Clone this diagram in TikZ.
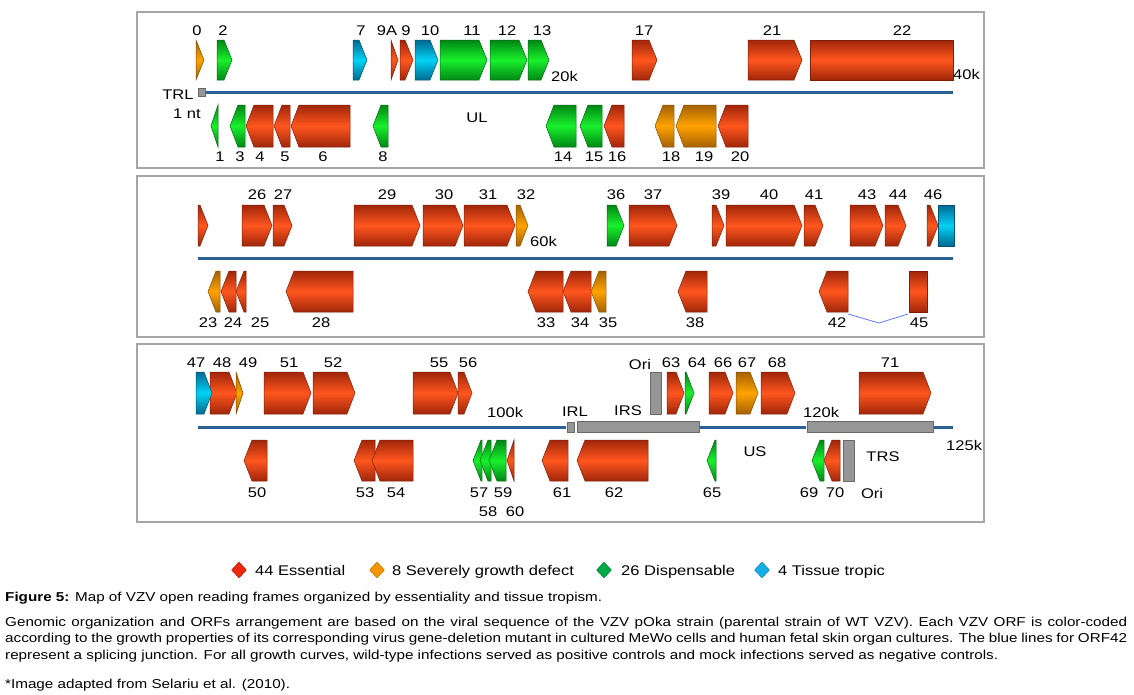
\documentclass[tikz,border=0pt]{standalone}
\usepackage{fontspec}
\setmainfont{Liberation Sans}[FakeStretch=1.18]
\usetikzlibrary{shapes.geometric}
\definecolor{essdark}{RGB}{160,38,10}
\definecolor{esslite}{RGB}{255,86,30}
\definecolor{sevdark}{RGB}{165,98,0}
\definecolor{sevlite}{RGB}{255,162,0}
\definecolor{grndark}{RGB}{0,135,20}
\definecolor{grnlite}{RGB}{25,240,45}
\definecolor{tisdark}{RGB}{0,105,145}
\definecolor{tislite}{RGB}{0,210,245}
\definecolor{origray}{RGB}{150,150,150}
\definecolor{genome}{RGB}{45,95,150}
\definecolor{splice}{RGB}{100,120,255}
\definecolor{frame}{RGB}{165,165,165}
\definecolor{keyess}{RGB}{235,40,10}
\definecolor{keysev}{RGB}{245,150,0}
\definecolor{keydis}{RGB}{0,170,70}
\definecolor{keytis}{RGB}{20,175,230}
\tikzset{
  % fills for the four growth classes, plus the grey repeat/origin blocks
  ess/.style={draw=essdark!80!black,line width=0.5pt,top color=essdark,bottom color=essdark,middle color=esslite},
  sev/.style={draw=sevdark!80!black,line width=0.5pt,top color=sevdark,bottom color=sevdark,middle color=sevlite},
  dis/.style={draw=grndark!80!black,line width=0.5pt,top color=grndark,bottom color=grndark,middle color=grnlite},
  tis/.style={draw=tisdark!80!black,line width=0.5pt,top color=tisdark,bottom color=tisdark,middle color=tislite},
  rep/.style={draw=origray!70!black,line width=0.5pt,fill=origray},
  % text
  orflab/.style={font=\fontsize{14}{16}\selectfont,inner sep=0},
  seglab/.style={font=\fontsize{14}{16}\selectfont,inner sep=0},
  legdia/.style={diamond,draw=#1!70!black,fill=#1,inner sep=0,minimum width=15,minimum height=16},
  legtxt/.style={font=\fontsize{14}{16}\selectfont,inner sep=0,anchor=base west},
  captxt/.style={font=\fontsize{12.9}{16}\selectfont,inner sep=0,anchor=base west},
  panel/.style={draw=frame,line width=1.6pt},
  dna/.style={draw=genome,line width=3pt}
}
% current row of ORFs: top, bottom
\newcommand{\setrow}[2]{\def\rowT{#1}\def\rowB{#2}\pgfmathsetmacro{\rowM}{(#1+#2)/2}}
% forward ORF: style, left x, right x
\newcommand{\orfF}[3]{\pgfmathsetmacro{\tb}{max(#2,#3-8)}%
  \path[#1] (#2,\rowT) -- (\tb,\rowT) -- (#3,\rowM) -- (\tb,\rowB) -- (#2,\rowB) -- cycle;}
% reverse ORF: style, left x, right x
\newcommand{\orfR}[3]{\pgfmathsetmacro{\tb}{min(#3,#2+8)}%
  \path[#1] (#3,\rowT) -- (\tb,\rowT) -- (#2,\rowM) -- (\tb,\rowB) -- (#3,\rowB) -- cycle;}
% ORF without direction
\newcommand{\orfB}[3]{\path[#1] (#2,\rowT) rectangle (#3,\rowB);}

\begin{document}
\begin{tikzpicture}[x=1pt,y=-1pt]
  \useasboundingbox[fill=white] (0,0) rectangle (1134,694);
  % Panel 1: 0--40k
  \draw[panel] (137,12) rectangle (984,168);
  \path[rep] (198,88) rectangle (205,96);
  \draw[dna] (206,92) -- (953,92);
  \setrow{40}{80}
  \orfF{sev}{196}{204}
  \orfF{dis}{217}{232}
  \orfF{tis}{353}{367}
  \orfF{ess}{391}{398}
  \orfF{ess}{400}{413}
  \orfF{tis}{415}{438}
  \orfF{dis}{440}{487}
  \orfF{dis}{490}{527}
  \orfF{dis}{528}{549}
  \orfF{ess}{632}{657}
  \orfF{ess}{748}{802}
  \orfB{ess}{810}{953}
  \setrow{105}{147}
  \orfR{dis}{211}{218}
  \orfR{dis}{230}{245}
  \orfR{ess}{246}{273}
  \orfR{ess}{274}{290}
  \orfR{ess}{291}{350}
  \orfR{dis}{373}{388}
  \orfR{dis}{546}{576}
  \orfR{dis}{580}{602}
  \orfR{ess}{604}{624}
  \orfR{sev}{655}{674}
  \orfR{sev}{676}{716}
  \orfR{ess}{718}{748}
  \foreach \n/\x in {0/197,2/223,7/361,9A/387,9/406,10/430,11/472,12/507,13/542,17/644,21/772,22/902}
    \node[orflab] (a\n) at (\x,31) {\n};
  \foreach \n/\x in {1/220,3/240,4/260,5/285,6/323,8/383,14/563,15/594,16/617,18/671,19/704,20/740}
    \node[orflab] (b\n) at (\x,157) {\n};
  \node[seglab] (trl) at (178,95) {TRL};
  \node[seglab] (nt) at (187,114) {1 nt};
  \node[seglab] (ul) at (477,118) {UL};
  \node[seglab,anchor=west] (k20) at (551,76) {20k};
  \node[seglab,anchor=west] (k40) at (953,74) {40k};

  % Panel 2: 40k--100k
  \draw[panel] (137,176) rectangle (984,337);
  \draw[dna] (198,258) -- (953,258);
  \setrow{205}{246}
  \orfF{ess}{198}{208}
  \orfF{ess}{242}{272}
  \orfF{ess}{273}{292}
  \orfF{ess}{354}{420}
  \orfF{ess}{423}{463}
  \orfF{ess}{464}{515}
  \orfF{sev}{516}{528}
  \orfF{dis}{607}{624}
  \orfF{ess}{629}{677}
  \orfF{ess}{712}{724}
  \orfF{ess}{726}{802}
  \orfF{ess}{804}{823}
  \orfF{ess}{850}{883}
  \orfF{ess}{885}{906}
  \orfF{ess}{927}{938}
  \orfB{tis}{938}{954}
  \setrow{271}{312}
  \orfR{sev}{208}{220}
  \orfR{ess}{221}{236}
  \orfR{ess}{236}{246}
  \orfR{ess}{286}{353}
  \orfR{ess}{528}{563}
  \orfR{ess}{563}{591}
  \orfR{sev}{591}{606}
  \orfR{ess}{678}{707}
  \orfR{ess}{819}{848}
  \orfB{ess}{909}{927}
  % splicing junction of ORF42/45
  \draw[splice,line width=0.8pt] (848,314) -- (879,323) -- (908,314);
  \foreach \n/\x in {26/257,27/283,29/387,30/444,31/488,32/526,36/616,37/653,39/721,40/769,41/814,43/867,44/898,46/933}
    \node[orflab] (a\n) at (\x,195) {\n};
  \foreach \n/\x in {23/208,24/233,25/260,28/321,33/546,34/580,35/608,38/695,42/837,45/919}
    \node[orflab] (b\n) at (\x,323) {\n};
  \node[seglab,anchor=west] (k60) at (530,241) {60k};

  % Panel 3: 100k--125k
  \draw[panel] (137,344) rectangle (984,522);
  \draw[dna] (198,427) -- (566,427);
  \path[rep] (567,422) rectangle (574,432);
  \path[rep] (577,421) rectangle (699,432);
  \draw[dna] (700,427) -- (806,427);
  \path[rep] (807,421) rectangle (933,432);
  \draw[dna] (934,427) -- (953,427);
  \setrow{372}{414}
  \orfF{ess}{210}{237}
  \orfF{tis}{196}{212}
  \orfF{sev}{236}{243}
  \orfF{ess}{264}{311}
  \orfF{ess}{313}{355}
  \orfF{ess}{413}{458}
  \orfF{ess}{458}{472}
  \orfB{rep}{650}{661}
  \orfF{ess}{667}{684}
  \orfF{dis}{685}{694}
  \orfF{ess}{709}{733}
  \orfF{sev}{736}{758}
  \orfF{ess}{761}{795}
  \orfF{ess}{859}{931}
  \setrow{440}{481}
  \orfR{ess}{244}{267}
  \orfR{ess}{354}{375}
  \orfR{ess}{372}{413}
  \orfR{dis}{473}{482}
  \orfR{dis}{480}{491}
  \orfR{dis}{489}{506}
  \orfR{ess}{507}{514}
  \orfR{ess}{542}{568}
  \orfR{ess}{577}{648}
  \orfR{dis}{707}{716}
  \orfR{dis}{812}{824}
  \orfR{ess}{824}{840}
  \orfB{rep}{843}{854}
  \foreach \n/\x in {47/196,48/222,49/248,51/289,52/333,55/439,56/468,63/671,64/697,66/723,67/747,68/777,71/890}
    \node[orflab] (a\n) at (\x,363) {\n};
  \foreach \n/\x in {50/257,53/365,54/396,57/479,59/503,61/562,62/614,65/712,69/809,70/835}
    \node[orflab] (b\n) at (\x,493) {\n};
  \foreach \n/\x in {58/488,60/515}
    \node[orflab] (b\n) at (\x,512) {\n};
  \node[seglab] (oriS) at (640,364) {Ori};
  \node[seglab] (oriT) at (872,493) {Ori};
  \node[seglab,anchor=west] (k100) at (487,412) {100k};
  \node[seglab] (irl) at (575,412) {IRL};
  \node[seglab] (irs) at (628,411) {IRS};
  \node[seglab,anchor=west] (k120) at (803,412) {120k};
  \node[seglab,anchor=west] (k125) at (946,445) {125k};
  \node[seglab] (us) at (755,452) {US};
  \node[seglab] (trs) at (883,457) {TRS};

  % Legend
  \node[legdia=keyess] (dE) at (239,570) {};
  \node[legtxt] (tE) at (255,575) {44 Essential};
  \node[legdia=keysev] (dS) at (377,570) {};
  \node[legtxt] (tS) at (392,575) {8 Severely growth defect};
  \node[legdia=keydis] (dD) at (604,570) {};
  \node[legtxt] (tD) at (621,575) {26 Dispensable};
  \node[legdia=keytis] (dT) at (762,570) {};
  \node[legtxt] (tT) at (778,575) {4 Tissue tropic};

  % Caption
  \node[captxt] (cap0) at (5,601) {\textbf{Figure 5:} Map of VZV open reading frames organized by essentiality and tissue tropism.};
  \node[captxt] (cap1) at (5,626) {\makebox[1122pt][s]{Genomic organization and ORFs arrangement are based on the viral sequence of the VZV pOka strain (parental strain of WT VZV). Each VZV ORF is color-coded}};
  \node[captxt] (cap2) at (5,642) {\makebox[1122pt][s]{according to the growth properties of its corresponding virus gene-deletion mutant in cultured MeWo cells and human fetal skin organ cultures. The blue lines for ORF42}};
  \node[captxt] (cap3) at (5,659) {represent a splicing junction. For all growth curves, wild-type infections served as positive controls and mock infections served as negative controls.};
  \node[captxt] (cap4) at (5,688) {*Image adapted from Selariu et al. (2010).};
\end{tikzpicture}
\end{document}
